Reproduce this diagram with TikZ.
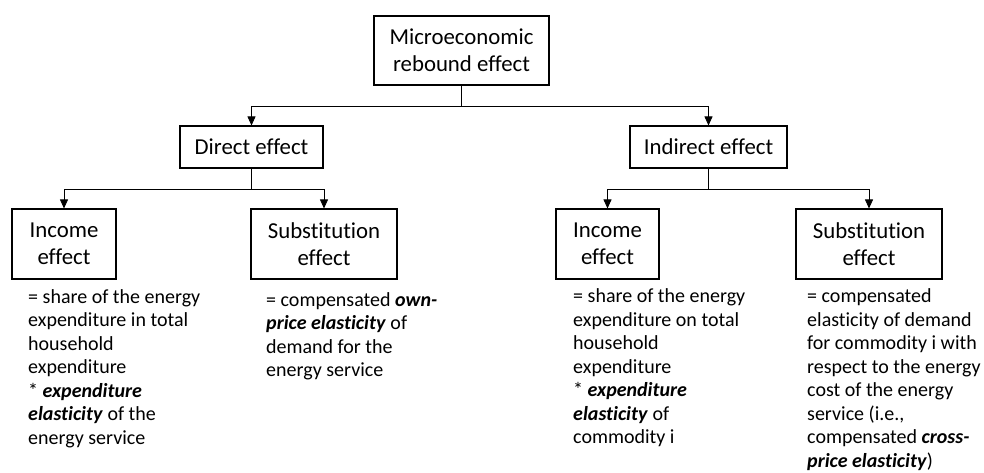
\documentclass[tikz,border=0pt]{standalone}
\usepackage{fontspec}
\setmainfont[Ligatures=NoCommon]{Carlito}
\usetikzlibrary{arrows.meta}
\begin{document}
\begin{tikzpicture}[x=1pt,y=-1pt,
  box/.style={draw,line width=1.1pt,align=center,inner sep=0pt,
    font=\fontsize{22.8}{27}\selectfont},
  conn/.style={line width=0.8pt,-{Triangle[width=8pt,length=9pt]}},
  desc/.style={anchor=north west,align=left,inner sep=0pt,
    font=\fontsize{20}{23.5}\selectfont}]
\useasboundingbox (0,0) rectangle (984,472);
\fill[white] (0,0) rectangle (984,472);
\node[box,minimum width=175pt,minimum height=69pt] (top) at (461.5,50.5) {Microeconomic\\rebound effect};
\node[box,minimum width=143pt,minimum height=42pt] (direct) at (251.5,147) {Direct effect};
\node[box,minimum width=157pt,minimum height=42pt] (indirect) at (708.5,147) {Indirect effect};
\node[box,minimum width=104pt,minimum height=70pt] (inc1) at (64,244) {Income\\effect};
\node[box,minimum width=146pt,minimum height=70pt] (sub1) at (324,244) {Substitution\\effect};
\node[box,minimum width=103pt,minimum height=70pt] (inc2) at (607.5,244) {Income\\effect};
\node[box,minimum width=146pt,minimum height=70pt] (sub2) at (869,244) {Substitution\\effect};

\draw[conn] (top.south) -- ++(0,21) -| (direct.north);
\draw[conn] (top.south) -- ++(0,21) -| (indirect.north);
\draw[conn] (direct.south) -- ++(0,21) -| (inc1.north);
\draw[conn] (direct.south) -- ++(0,21) -| (sub1.north);
\draw[conn] (indirect.south) -- ++(0,21) -| (inc2.north);
\draw[conn] (indirect.south) -- ++(0,21) -| (sub2.north);

\node[desc] (d1) at (28,286.5) {\strut= share of the energy\\expenditure in total\\household\\expenditure\\* \textbf{\textit{expenditure}}\\\textbf{\textit{elasticity}} of the\\energy service};
\node[desc] (d2) at (266,289.5) {\strut= compensated \textbf{\textit{own-}}\\\textbf{\textit{price elasticity}} of\\demand for the\\energy service};
\node[desc] (d3) at (573,286.3) {\strut= share of the energy\\expenditure on total\\household\\expenditure\\* \textbf{\textit{expenditure}}\\\textbf{\textit{elasticity}} of\\commodity i};
\node[desc] (d4) at (807,286.3) {\strut= compensated\\elasticity of demand\\for commodity i with\\respect to the energy\\cost of the energy\\service (i.e.,\\compensated \textbf{\textit{cross-}}\\\textbf{\textit{price elasticity}})};
\end{tikzpicture}
\end{document}
